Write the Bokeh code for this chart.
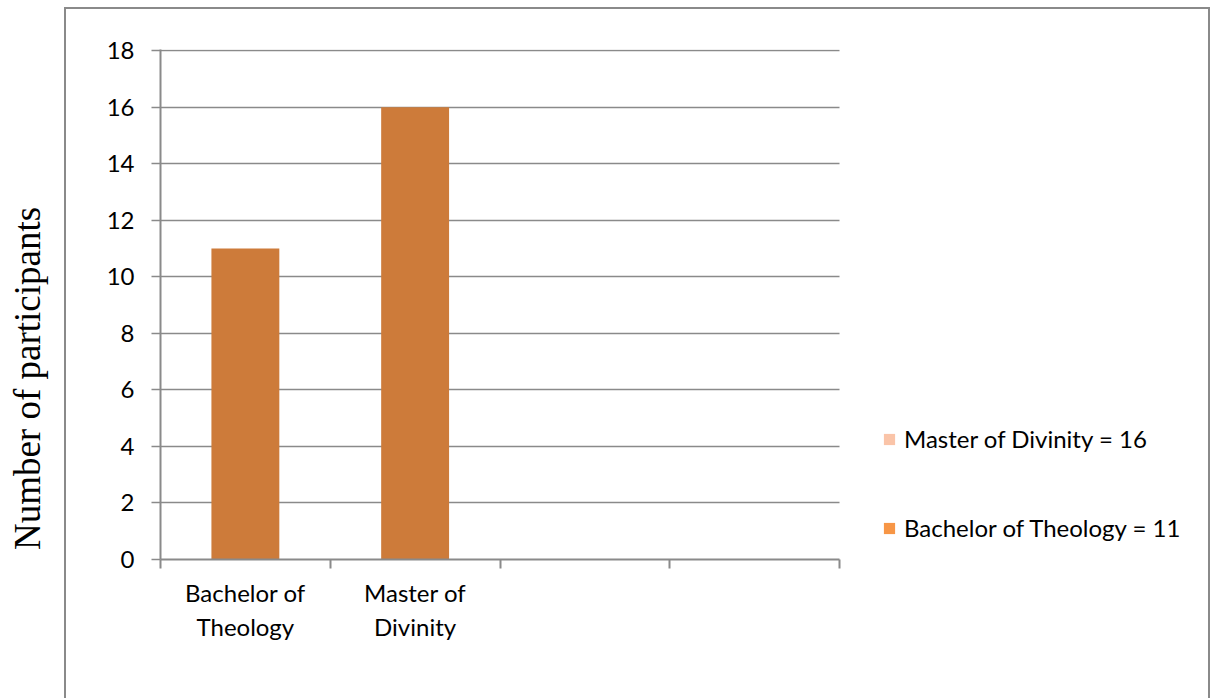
import math

from bokeh.embed import file_html
from bokeh.models import (ColumnDataSource, FixedTicker, InlineStyleSheet,
                          Label, Legend, LegendItem, Range1d)
from bokeh.plotting import figure
from bokeh.resources import INLINE

# Degree programmes and participant counts
categories = ["Bachelor of Theology", "Master of Divinity"]
participants = [11, 16]
n_slots = 4  # the category axis has room for four groups

# Legend entries (listed top to bottom) and their swatch colours
legend_names = ["Master of Divinity", "Bachelor of Theology"]
legend_values = [16, 11]
legend_colors = ["#FAC4A8", "#F79646"]

y_ticks = [0, 2, 4, 6, 8, 10, 12, 14, 16, 18]

BAR_COLOR = "#CD7B3A"
GRID = "#8A8A8A"
SANS = "Lato"
SERIF = "Liberation Serif"

# Geometry of the plotting area (pixels)
LEFT, TOP = 160, 49
SLOT_PX = 679 / n_slots          # width of one category slot
FRAME_W = 1212 - LEFT            # frame runs to the right edge; axis stops at slot 4

# Thin grey box around the whole chart area (open at the bottom)
chart_box = InlineStyleSheet(css="""
:host::after {
  content: "";
  position: absolute;
  left: 64px; top: 7px;
  width: 1146px; height: 691px;
  box-sizing: border-box;
  border: 2px solid #8A8A8A;
  border-bottom: none;
  pointer-events: none;
}
""")

p = figure(
    width=1212, height=698,
    output_backend="svg", toolbar_location=None,
    x_range=Range1d(0, FRAME_W / SLOT_PX), y_range=Range1d(0, 18.04),
    min_border_left=LEFT, min_border_right=0,
    min_border_top=TOP, min_border_bottom=139,
)
p.stylesheets = [chart_box]
p.outline_line_color = None
p.background_fill_color = "white"
p.border_fill_color = "white"

# Horizontal gridlines, spanning only the category slots
p.xgrid.visible = False
grid = p.ygrid[0]
if "cross_bounds" in grid.properties():
    grid.ticker = FixedTicker(ticks=y_ticks)
    grid.cross_bounds = (0, n_slots)
    grid.grid_line_color = GRID
    grid.grid_line_width = 1.5
    grid.level = "underlay"
else:
    grid.visible = False
    p.segment(x0=0, x1=n_slots, y0=y_ticks, y1=y_ticks,
              line_color=GRID, line_width=1.5, level="underlay")

# Bars sit in the middle of each category slot
xs = [i + 0.5 for i in range(len(categories))]
src = ColumnDataSource(dict(x=xs, top=participants, name=categories))
p.vbar(x="x", top="top", width=0.4, source=src,
       fill_color=BAR_COLOR, line_color=None)

# Y axis
p.yaxis.ticker = FixedTicker(ticks=y_ticks)
p.yaxis.axis_line_color = GRID
p.yaxis.axis_line_width = 2
p.yaxis.major_tick_line_color = GRID
p.yaxis.major_tick_line_width = 1.5
p.yaxis.major_tick_out = 9
p.yaxis.major_tick_in = 0
p.yaxis.minor_tick_line_color = None
p.yaxis.major_label_standoff = 17
p.yaxis.major_label_text_font = SANS
p.yaxis.major_label_text_font_size = "24px"
p.yaxis.major_label_text_color = "#000000"

# X axis: boundary marks between slots, names centred in the slots
label_pos = [i + 0.5 for i in range(n_slots)]
boundaries = list(range(n_slots + 1))
p.xaxis.bounds = (0, n_slots)
p.xaxis.ticker = FixedTicker(ticks=label_pos, minor_ticks=boundaries)
overrides = {pos: "" for pos in label_pos}
for pos, name in zip(xs, categories):
    overrides[pos] = name.replace(" of ", " of\n")
p.xaxis.major_label_overrides = overrides
p.xaxis.axis_line_color = GRID
p.xaxis.axis_line_width = 2
p.xaxis.major_tick_line_color = None
p.xaxis.minor_tick_line_color = GRID
p.xaxis.minor_tick_line_width = 2
p.xaxis.minor_tick_out = 9
p.xaxis.minor_tick_in = 0
p.xaxis.major_label_standoff = 9
p.xaxis.major_label_text_font = SANS
p.xaxis.major_label_text_font_size = "24px"
p.xaxis.major_label_text_color = "#000000"

# Legend: swatch renderers are kept hidden so only the key shows them
items = []
for name, val, col in zip(legend_names, legend_values, legend_colors):
    pos = categories.index(name) + 0.5
    r = p.vbar(x=[pos], top=[val], width=0.4,
               fill_color=col, line_color=None, visible=False)
    items.append(LegendItem(label=f"{name} = {val}", renderers=[r]))
legend = Legend(items=items, location=(722, 17),
                padding=0, margin=0, spacing=60,
                glyph_width=14, glyph_height=14, label_height=14,
                label_standoff=8,
                label_text_font=SANS, label_text_font_size="24px",
                label_text_color="#000000",
                inactive_fill_alpha=0,
                border_line_color=None, background_fill_alpha=0,
                click_policy="none")
p.add_layout(legend, "center")

# Value axis title
p.add_layout(Label(x=27, y=378, x_units="canvas", y_units="canvas",
                   text="Number of participants", angle=math.pi / 2,
                   text_align="center", text_baseline="middle",
                   text_font=SERIF, text_font_size="37px",
                   text_color="#000000"), "left")

open("out.html", "w").write(file_html(p, INLINE))
